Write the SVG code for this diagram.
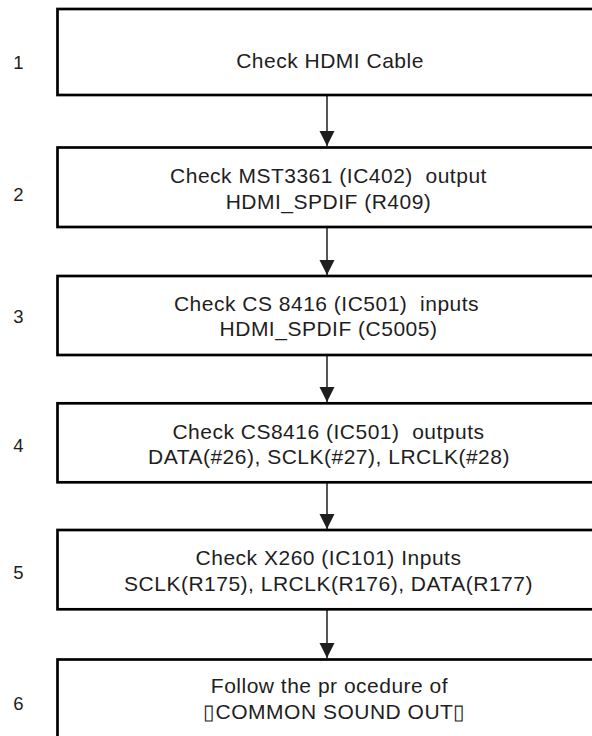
<svg xmlns="http://www.w3.org/2000/svg" width="592" height="736" viewBox="0 0 592 736">
  <style>
    .box { fill: #ffffff; stroke: #000000; stroke-width: 2.7; }
    .txt { font-family: "Liberation Sans", Arial, sans-serif; font-size: 21px; letter-spacing: 0.5px; fill: #1e1e1e; text-anchor: middle; white-space: pre; }
    .num { font-family: "Liberation Sans", Arial, sans-serif; font-size: 18.5px; fill: #1e1e1e; text-anchor: middle; }
    .link { stroke: #1e1e1e; stroke-width: 1.5; fill: none; marker-end: url(#arrow); }
  </style>
  <defs>
    <marker id="arrow" markerUnits="userSpaceOnUse" markerWidth="16" markerHeight="16" viewBox="0 0 16 16" refX="15" refY="8" orient="auto">
      <path d="M0,0.5 L15,8 L0,15.5 Z" fill="#1e1e1e"/>
    </marker>
  </defs>
  <rect width="592" height="736" fill="#ffffff"/>

  <!-- step numbers -->
  <g id="step-numbers">
    <text class="num" x="18.5" y="69">1</text>
    <text class="num" x="18.5" y="201">2</text>
    <text class="num" x="18.5" y="323">3</text>
    <text class="num" x="18.5" y="452">4</text>
    <text class="num" x="18.5" y="579">5</text>
    <text class="num" x="18.5" y="710">6</text>
  </g>

  <!-- connectors between steps -->
  <g id="connectors">
    <line class="link" x1="327" y1="96" x2="327" y2="146"/>
    <line class="link" x1="327" y1="228" x2="327" y2="275"/>
    <line class="link" x1="327" y1="356" x2="327" y2="402"/>
    <line class="link" x1="327" y1="483" x2="327" y2="529"/>
    <line class="link" x1="327" y1="610" x2="327" y2="658"/>
  </g>

  <g id="step1">
    <rect class="box" x="57.5" y="9" width="560" height="86"/>
    <text class="txt" x="330" y="68">Check HDMI Cable</text>
  </g>

  <g id="step2">
    <rect class="box" x="57.5" y="147.5" width="560" height="79.5"/>
    <text class="txt" x="328.5" y="183">Check MST3361 (IC402)  output</text>
    <text class="txt" x="328.5" y="209">HDMI_SPDIF (R409)</text>
  </g>

  <g id="step3">
    <rect class="box" x="57.5" y="276" width="560" height="79"/>
    <text class="txt" x="326.5" y="311">Check CS 8416 (IC501)  inputs</text>
    <text class="txt" x="328.5" y="336">HDMI_SPDIF (C5005)</text>
  </g>

  <g id="step4">
    <rect class="box" x="57.5" y="403.3" width="560" height="79"/>
    <text class="txt" x="328.5" y="439">Check CS8416 (IC501)  outputs</text>
    <text class="txt" x="329" y="464">DATA(#26), SCLK(#27), LRCLK(#28)</text>
  </g>

  <g id="step5">
    <rect class="box" x="57.5" y="530" width="560" height="79.3"/>
    <text class="txt" x="328.5" y="565">Check X260 (IC101) Inputs</text>
    <text class="txt" x="328.5" y="591">SCLK(R175), LRCLK(R176), DATA(R177)</text>
  </g>

  <g id="step6">
    <rect class="box" x="57.5" y="659.5" width="560" height="100"/>
    <text class="txt" x="329.5" y="693">Follow the pr ocedure of</text>
    <text class="txt" x="334.5" y="719">▯COMMON SOUND OUT▯</text>
  </g>
</svg>
